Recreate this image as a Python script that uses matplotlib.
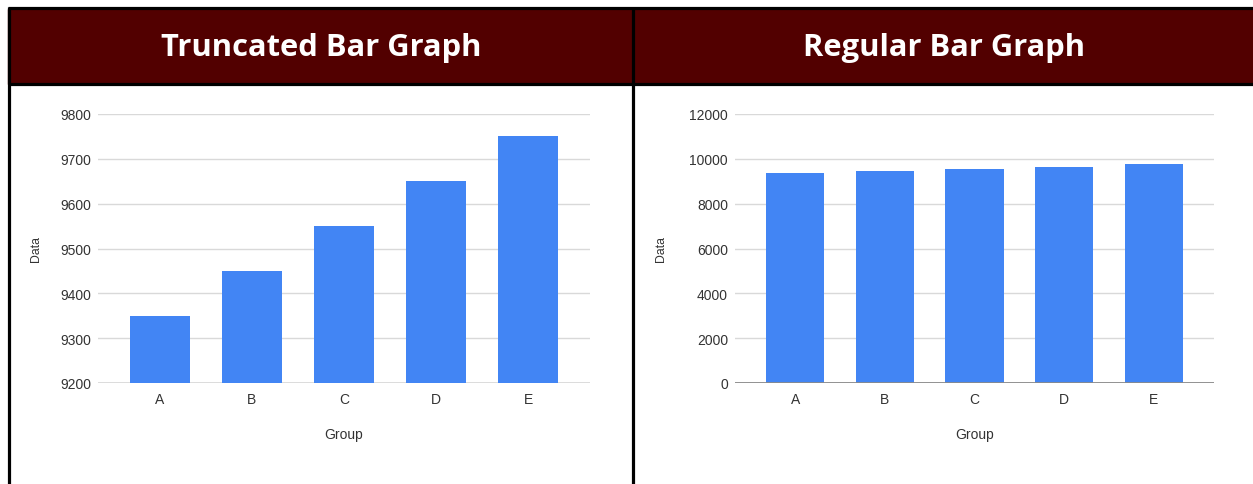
import matplotlib.pyplot as plt
from matplotlib.patches import Rectangle
from matplotlib.lines import Line2D

groups = ["A", "B", "C", "D", "E"]
values = [9350, 9450, 9550, 9650, 9750]
titles = ["Truncated Bar Graph", "Regular Bar Graph"]
left_ticks = [9200, 9300, 9400, 9500, 9600, 9700, 9800]
right_ticks = [0, 2000, 4000, 6000, 8000, 10000, 12000]

W, H = 1253, 485
bar_color = "#4285f4"
header_color = "#520000"

plt.rcParams["font.family"] = ["Liberation Sans", "DejaVu Sans"]

fig = plt.figure(figsize=(W / 100, H / 100), dpi=100)


def fx(px):
    return px / W


def fy(py):
    return 1 - py / H


# header band and frame lines
fig.patches.append(Rectangle((fx(8), fy(85)), fx(W), 75 / H,
                             transform=fig.transFigure, color=header_color, zorder=0))
frame = [
    ((8, W), (9, 9)),
    ((8, W), (84.5, 84.5)),
    ((8.5, 8.5), (8, H)),
    ((632.5, 632.5), (8, H)),
]
for xs, ys in frame:
    fig.add_artist(Line2D([fx(x) for x in xs], [fy(y) for y in ys],
                          color="black", lw=2.3, solid_capstyle="butt",
                          transform=fig.transFigure))

fig.text(fx(321), fy(48), titles[0], color="white", fontsize=22.2,
         fontweight="bold", family="Open Sans", ha="center", va="center")
fig.text(fx(944), fy(48), titles[1], color="white", fontsize=22.2,
         fontweight="bold", family="Open Sans", ha="center", va="center")


def make_panel(x0, x1, ticks, label_x, truncated):
    ax = fig.add_axes([fx(x0), fy(384), fx(x1 - x0), 269 / H])
    ax.bar(range(len(groups)), values, width=0.65, color=bar_color, zorder=2)
    ax.set_xlim(-0.67, len(groups) - 0.33)
    ax.set_ylim(ticks[0], ticks[-1])
    ax.set_yticks(ticks)
    ax.set_xticks(range(len(groups)))
    ax.set_xticklabels(groups)
    ax.grid(axis="y", color="#d9d9d9", lw=1, zorder=0)
    for s in ax.spines.values():
        s.set_visible(False)
    if truncated:
        ax.axhline(ticks[0], color="#d9d9d9", lw=2, zorder=1)
    else:
        ax.axhline(0, color="#8a8a8a", lw=1.3, zorder=3)
    ax.tick_params(length=0, labelsize=10, colors="#333333")
    ax.tick_params(axis="y", pad=5)
    ax.tick_params(axis="x", pad=6.5)
    ax.set_ylabel("Data", fontsize=8.8, color="#333333")
    ax.yaxis.set_label_coords((label_x - x0) / (x1 - x0), 0.5)
    ax.set_xlabel("Group", fontsize=10, color="#333333")
    ax.xaxis.set_label_coords(0.5, -0.165)
    return ax


make_panel(98, 590, left_ticks, 42, True)
make_panel(735, 1214, right_ticks, 667, False)

fig.savefig("out.png", dpi=100)
